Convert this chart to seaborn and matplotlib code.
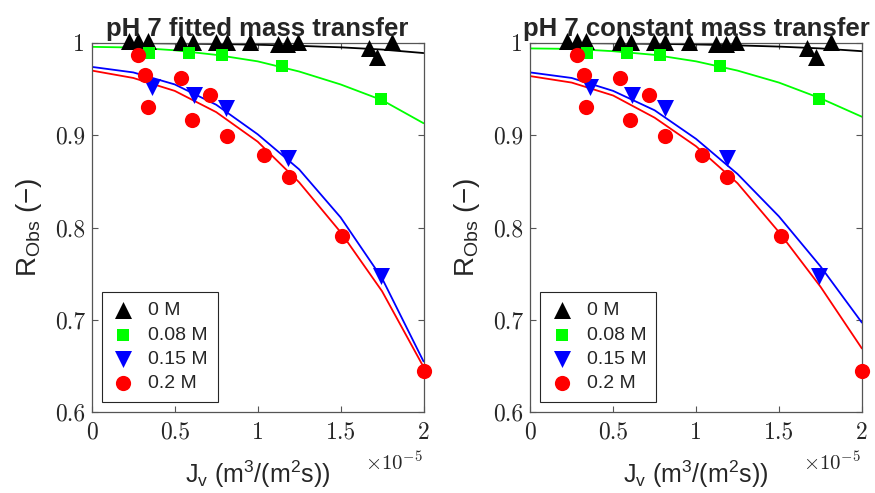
import pandas as pd
import matplotlib.pyplot as plt
import seaborn as sns

# Measured rejection, Jv in units of 1e-5 m3/(m2 s)
jv_0 = [0.223, 0.279, 0.339, 0.540, 0.610, 0.747, 0.815, 0.956, 1.122, 1.179, 1.243, 1.670, 1.721, 1.811]
r_0 = [1.002, 1.002, 1.002, 1.001, 1.001, 1.001, 1.001, 1.001, 0.9985, 0.9985, 1.001, 0.994, 0.985, 1.001]

jv_08 = [0.343, 0.584, 0.783, 1.145, 1.742]
r_08 = [0.989, 0.989, 0.9865, 0.9745, 0.939]

jv_15 = [0.360, 0.616, 0.811, 1.185, 1.741]
r_15 = [0.952, 0.944, 0.929, 0.875, 0.747]

jv_20 = [0.279, 0.323, 0.339, 0.540, 0.604, 0.715, 0.813, 1.036, 1.187, 1.510, 2.002]
r_20 = [0.987, 0.965, 0.931, 0.962, 0.916, 0.944, 0.899, 0.879, 0.855, 0.791, 0.645]

# Model curves
fit_x = [0, 0.25, 0.5, 0.75, 1.0, 1.25, 1.5, 1.75, 2.0]

fitted_0 = [1.0, 0.9998, 0.9994, 0.9988, 0.998, 0.9968, 0.9952, 0.9928, 0.989]
fitted_08 = [0.9957, 0.995, 0.992, 0.987, 0.980, 0.969, 0.955, 0.938, 0.913]
fitted_15 = [0.974, 0.968, 0.955, 0.933, 0.901, 0.863, 0.811, 0.745, 0.655]
fitted_20 = [0.970, 0.962, 0.948, 0.925, 0.893, 0.849, 0.795, 0.731, 0.649]

const_0 = [1.0, 0.9998, 0.9995, 0.999, 0.9983, 0.9973, 0.996, 0.994, 0.991]
const_08 = [0.994, 0.9935, 0.991, 0.987, 0.980, 0.970, 0.957, 0.940, 0.920]
const_15 = [0.968, 0.962, 0.948, 0.927, 0.896, 0.858, 0.812, 0.758, 0.697]
const_20 = [0.964, 0.957, 0.943, 0.919, 0.888, 0.848, 0.795, 0.736, 0.669]

labels = ['0 M', '0.08 M', '0.15 M', '0.2 M']
colors = ['black', '#00ff00', '#0000ff', '#ff0000']
markers = ['^', 's', 'v', 'o']
msizes = [150, 70, 150, 120]

x_ticks = [0, 0.5, 1, 1.5, 2]
y_ticks = [0.6, 0.7, 0.8, 0.9, 1.0]

points = [(jv_0, r_0), (jv_08, r_08), (jv_15, r_15), (jv_20, r_20)]

sns.set_style('ticks')
plt.rcParams['font.family'] = ['Liberation Sans', 'DejaVu Sans']
plt.rcParams['mathtext.fontset'] = 'custom'
plt.rcParams['mathtext.rm'] = 'Liberation Sans'
plt.rcParams['mathtext.it'] = 'Liberation Sans:italic'

fig = plt.figure(figsize=(8.75, 4.93), dpi=100)
ax1 = fig.add_axes([0.105, 0.164, 0.379, 0.749])
ax2 = fig.add_axes([0.606, 0.164, 0.379, 0.749])


def panel(ax, curves, title):
    fits = pd.DataFrame({
        'jv': fit_x * 4,
        'r': [v for c in curves for v in c],
        'conc': [lab for lab in labels for _ in fit_x],
    })
    sns.lineplot(data=fits, x='jv', y='r', hue='conc', palette=dict(zip(labels, colors)),
                 estimator=None, legend=False, linewidth=1.3, ax=ax)
    for (x, y), lab, col, mk, s in zip(points, labels, colors, markers, msizes):
        sns.scatterplot(x=x, y=y, color=col, marker=mk, s=s, linewidth=0,
                        clip_on=False, zorder=3, label=lab, ax=ax)

    ax.set_xlim(0, 2)
    ax.set_ylim(0.6, 1.0)
    ax.set_xticks(x_ticks)
    ax.set_xticklabels(['0', '0.5', '1', '1.5', '2'])
    ax.set_yticks(y_ticks)
    ax.set_yticklabels(['0.6', '0.7', '0.8', '0.9', '1'])
    ax.tick_params(direction='in', top=True, right=True, length=4, width=0.8,
                   color='#555555', labelcolor='#262626', labelsize=17,
                   labelfontfamily='cmr10')
    ax.tick_params(axis='x', pad=7)
    ax.tick_params(axis='y', pad=5)
    for sp in ax.spines.values():
        sp.set_visible(True)
        sp.set_color('#555555')
        sp.set_linewidth(0.9)

    ax.set_title(title, fontsize=18.5, fontweight='bold', pad=5)
    ax.set_xlabel(r'J$_{\mathrm{v}}$ (m$^{3}$/(m$^{2}$s))', fontsize=18, color='#262626')
    ax.set_ylabel(r'R$_{\mathrm{Obs}}$ (−)', fontsize=20, color='#262626')
    ax.xaxis.set_label_coords(0.5, -0.125)
    ax.yaxis.set_label_coords(-0.145, 0.5)
    ax.text(0.997, -0.105, r'$\times10^{-5}$', transform=ax.transAxes, ha='right', va='top',
            fontsize=15, math_fontfamily='cm', color='#262626')

    handles, labs = ax.get_legend_handles_labels()
    leg = ax.legend(handles, labs, loc='lower left', bbox_to_anchor=(0.03, 0.027),
                    borderaxespad=0, fontsize=14, frameon=True, fancybox=False,
                    edgecolor='#262626', framealpha=1, handlelength=1.2,
                    handletextpad=0.7, labelspacing=0.35, borderpad=0.5)
    leg.get_frame().set_linewidth(0.8)


panel(ax1, [fitted_0, fitted_08, fitted_15, fitted_20], 'pH 7 fitted mass transfer')
panel(ax2, [const_0, const_08, const_15, const_20], 'pH 7 constant mass transfer')

fig.savefig('out.png', dpi=100)
